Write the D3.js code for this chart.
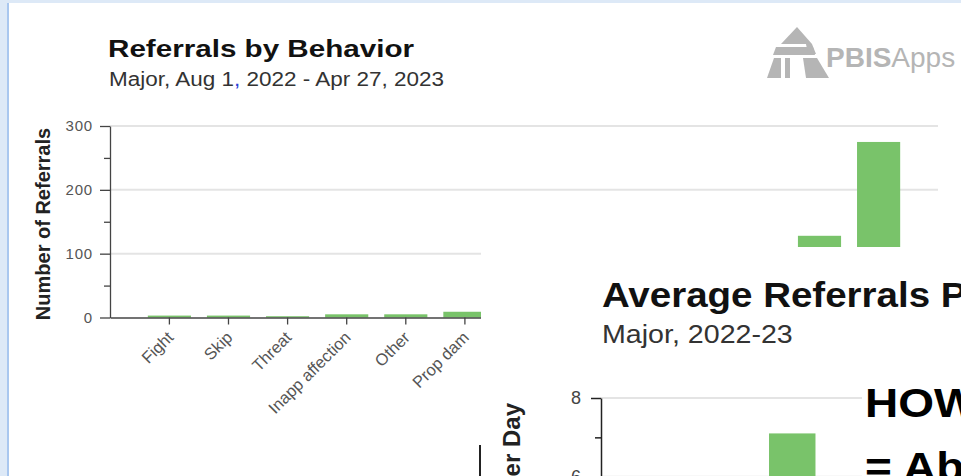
<!DOCTYPE html>
<html><head><meta charset="utf-8">
<script src="https://cdn.jsdelivr.net/npm/d3@7"></script>
<style>
html,body{margin:0;padding:0;background:#fff;overflow:hidden;}
svg{display:block;}
text{font-family:"Liberation Sans",Arial,Helvetica,sans-serif;}
</style></head>
<body>
<svg id="c" width="961" height="476"></svg>
<script>
// ---- Main chart data: Referrals by Behavior ----
const behaviors = ["Fight","Skip","Threat","Inapp affection","Other","Prop dam","Harass","Inapp lang","Tech violat","Abusive lang","Phys aggression","Defiance","Disruption"];
const referrals = [3,3,2,5,5,9,11,15,22,38,65,128,275];
const refTicks = [0,100,200,300];
const refMinorTicks = [50,150,250];

// ---- Overlay chart data: Average Referrals Per Day ----
const months = ["Aug","Sep","Oct","Nov","Dec","Jan","Feb","Mar","Apr","May","Jun","Jul"];
const avgPerDay = [3.4,5.2,7.1,5.8,4.6,5.5,5.9,5.3,4.8,0,0,0];
const avgTicks = [0,2,4,6,8];
const avgMinorTicks = [1,3,5,7];

const svg = d3.select("#c");
const GREEN = "#79c36a";

// page background (window chrome)
svg.append("rect").attr("x",0).attr("y",0).attr("width",961).attr("height",476).attr("fill","#dde9f7");
svg.append("rect").attr("x",9).attr("y",3).attr("width",952).attr("height",473).attr("fill","#fff");
svg.append("rect").attr("x",7).attr("y",3).attr("width",2).attr("height",473).attr("fill","#a9c7ef");

// ---------- Main chart ----------
const x = d3.scaleBand().domain(behaviors).range([110,938]).paddingInner(0.27).paddingOuter(0.64);
const y = d3.scaleLinear().domain([0,300]).range([317.5,126]);

const main = svg.append("g");
main.append("g").selectAll("line").data(refTicks.filter(d=>d>0)).join("line")
  .attr("x1",110).attr("x2",938).attr("y1",d=>y(d)).attr("y2",d=>y(d))
  .attr("stroke","#e4e4e4").attr("stroke-width",2);
main.append("g").selectAll("rect").data(behaviors).join("rect")
  .attr("x",d=>x(d)).attr("width",x.bandwidth())
  .attr("y",(d,i)=>y(referrals[i])).attr("height",(d,i)=>y(0)-y(referrals[i]))
  .attr("fill",GREEN);
const yAxis = main.append("g").attr("transform","translate(110,0)")
  .call(d3.axisLeft(y).tickValues(refTicks).tickSize(10).tickSizeOuter(0).tickPadding(7));
yAxis.select(".domain").attr("stroke","#444").attr("stroke-width",1.3);
yAxis.selectAll(".tick line").attr("stroke","#444").attr("stroke-width",1.3);
yAxis.selectAll(".tick text").attr("fill","#555").attr("font-size",15)
  .attr("font-family","Liberation Sans, Arial, sans-serif").attr("letter-spacing",0.8);
const yMinor = main.append("g").attr("transform","translate(110,0)")
  .call(d3.axisLeft(y).tickValues(refMinorTicks).tickSize(6).tickFormat(""));
yMinor.select(".domain").remove();
yMinor.selectAll(".tick line").attr("stroke","#444").attr("stroke-width",1.3);
const xAxis = main.append("g").attr("transform","translate(0,317.5)")
  .call(d3.axisBottom(x).tickSize(7).tickSizeOuter(0));
xAxis.select(".domain").attr("stroke","#444").attr("stroke-width",1.3);
xAxis.selectAll(".tick line").attr("stroke","#444").attr("stroke-width",1.3);
xAxis.selectAll(".tick text").attr("fill","#555").attr("font-size",16.5)
  .attr("font-family","Liberation Sans, Arial, sans-serif")
  .attr("text-anchor","end").attr("dy",0).attr("y",0)
  .attr("transform","translate(5,21) rotate(-45)");
main.append("text").attr("transform","translate(50,224) rotate(-90)")
  .attr("text-anchor","middle").attr("font-weight","bold").attr("font-size",20).attr("fill","#222")
  .text("Number of Referrals");
main.append("text").attr("x",108).attr("y",57).attr("font-weight","bold").attr("font-size",24)
  .attr("fill","#111").attr("textLength",306).attr("lengthAdjust","spacingAndGlyphs")
  .text("Referrals by Behavior");
const sub = main.append("text").attr("x",109).attr("y",86).attr("font-size",20).attr("fill","#333")
  .attr("textLength",335).attr("lengthAdjust","spacingAndGlyphs");
sub.append("tspan").text("Major, Aug 1");
sub.append("tspan").attr("fill","#2a3fd8").text(",");
sub.append("tspan").text(" 2022 - Apr 27, 2023");

// logo
const logo = svg.append("g").attr("fill","#b5b5b5");
logo.append("polygon").attr("points","797,27 781,44 812,44");
logo.append("polygon").attr("points","776,47 813,47 815,55 773,55");
logo.append("polygon").attr("points","767,78 774,58 781,58 781,78");
logo.append("rect").attr("x",785).attr("y",58).attr("width",5).attr("height",20);
logo.append("polygon").attr("points","803,58 817,58 829,78 806,78");
logo.append("polygon").attr("points","806,44 812,44 816,54 808,54");
const lt = logo.append("text").attr("x",826).attr("y",67).attr("font-size",28).attr("fill","#b5b5b5");
lt.append("tspan").attr("font-weight","bold").text("PBIS");
lt.append("tspan").text("Apps");

// ---------- Overlay chart ----------
svg.append("rect").attr("x",481).attr("y",247).attr("width",480).attr("height",229).attr("fill","#fff");
svg.append("rect").attr("x",479).attr("y",445).attr("width",2).attr("height",31).attr("fill","#222");

const ov = svg.append("g");
const x2 = d3.scaleBand().domain(months).range([601,1429]).paddingInner(0.27).paddingOuter(0.64);
const y2 = d3.scaleLinear().domain([0,8]).range([712.8,398]);
ov.append("g").selectAll("line").data(avgTicks.filter(d=>d>0)).join("line")
  .attr("x1",601).attr("x2",1429).attr("y1",d=>y2(d)).attr("y2",d=>y2(d))
  .attr("stroke","#e4e4e4").attr("stroke-width",2);
ov.append("g").selectAll("rect").data(months).join("rect")
  .attr("x",d=>x2(d)).attr("width",x2.bandwidth())
  .attr("y",(d,i)=>y2(avgPerDay[i])).attr("height",(d,i)=>y2(0)-y2(avgPerDay[i]))
  .attr("fill",GREEN);
const y2Axis = ov.append("g").attr("transform","translate(601,0)")
  .call(d3.axisLeft(y2).tickValues(avgTicks).tickSize(10).tickSizeOuter(0).tickPadding(10));
y2Axis.select(".domain").attr("stroke","#222").attr("stroke-width",1.5);
y2Axis.selectAll(".tick line").attr("stroke","#222").attr("stroke-width",1.5);
y2Axis.selectAll(".tick text").attr("fill","#444").attr("font-size",18).attr("font-family","Liberation Sans, Arial, sans-serif");
const y2Minor = ov.append("g").attr("transform","translate(601,0)")
  .call(d3.axisLeft(y2).tickValues(avgMinorTicks).tickSize(6).tickFormat(""));
y2Minor.select(".domain").remove();
y2Minor.selectAll(".tick line").attr("stroke","#222").attr("stroke-width",1.5);
ov.append("text").attr("transform","translate(520,403) rotate(-90)")
  .attr("text-anchor","end").attr("font-weight","bold").attr("font-size",24).attr("fill","#222")
  .text("Average Referrals Per Day");
ov.append("text").attr("transform","translate(602,307) scale(1.1,1)")
  .attr("font-weight","bold").attr("font-size",35).attr("fill","#111")
  .text("Average Referrals Per Day Per Month");
ov.append("text").attr("transform","translate(602,343) scale(1.1,1)")
  .attr("font-size",26).attr("fill","#333").text("Major, 2022-23");

// HOW box
svg.append("rect").attr("x",862).attr("y",378).attr("width",99).attr("height",98).attr("fill","#fff");
svg.append("text").attr("transform","translate(865,417) scale(1.15,1)").attr("font-weight","bold").attr("font-size",40).attr("fill","#000").text("HOW MANY?");
svg.append("text").attr("transform","translate(865,481) scale(1.15,1)").attr("font-weight","bold").attr("font-size",40).attr("fill","#000").text("= About 7");
</script>
</body></html>
